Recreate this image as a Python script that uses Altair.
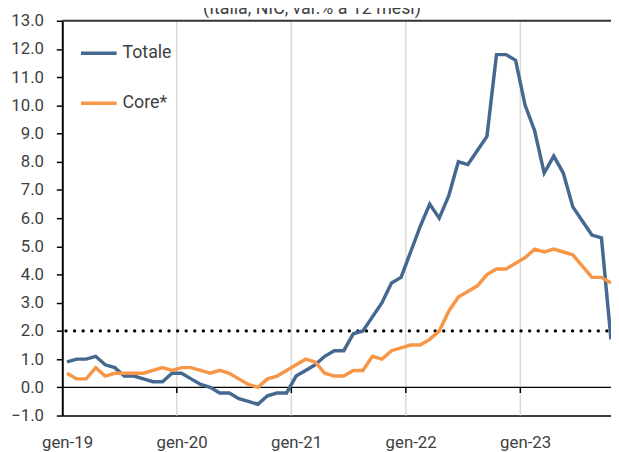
import altair as alt
import pandas as pd

# ---- data ----
title_text = "(Italia, NIC, var.% a 12 mesi)"
series_names = ["Totale", "Core*"]
year_labels = ["gen-19", "gen-20", "gen-21", "gen-22", "gen-23"]

totale = [0.9, 1.0, 1.0, 1.1, 0.8, 0.7, 0.4, 0.4, 0.3, 0.2, 0.2, 0.5,
          0.5, 0.3, 0.1, 0.0, -0.2, -0.2, -0.4, -0.5, -0.6, -0.3, -0.2, -0.2,
          0.4, 0.6, 0.8, 1.1, 1.3, 1.3, 1.9, 2.0, 2.5, 3.0, 3.7, 3.9,
          4.8, 5.7, 6.5, 6.0, 6.8, 8.0, 7.9, 8.4, 8.9, 11.8, 11.8, 11.6,
          10.0, 9.1, 7.6, 8.2, 7.6, 6.4, 5.9, 5.4, 5.3, 1.7]

core = [0.5, 0.3, 0.3, 0.7, 0.4, 0.5, 0.5, 0.5, 0.5, 0.6, 0.7, 0.6,
        0.7, 0.7, 0.6, 0.5, 0.6, 0.5, 0.3, 0.1, 0.0, 0.3, 0.4, 0.6,
        0.8, 1.0, 0.9, 0.5, 0.4, 0.4, 0.6, 0.6, 1.1, 1.0, 1.3, 1.4,
        1.5, 1.5, 1.7, 2.0, 2.7, 3.2, 3.4, 3.6, 4.0, 4.2, 4.2, 4.4,
        4.6, 4.9, 4.8, 4.9, 4.8, 4.7, 4.3, 3.9, 3.9, 3.7]

target = 2.0
year_starts = [12, 24, 36, 48]          # month boundaries (gen-20 ... gen-23)
label_pos = [0.5, 12.5, 24.5, 36.5, 48.5]

n = len(totale)
rows = []
for i in range(n):
    rows.append({"m": i + 0.5, "serie": "Totale", "v": totale[i], "ord": 1})
    rows.append({"m": i + 0.5, "serie": "Core*", "v": core[i], "ord": 0})
df = pd.DataFrame(rows)

XMAX = n - 0.5
xscale = alt.Scale(domain=[0, XMAX], nice=False, zero=False)
yscale = alt.Scale(domain=[-1, 13], nice=False, zero=False)

BLUE = "#44688F"
ORANGE = "#F79646"
TXT = "#404040"
FONT = "Roboto"

label_expr = ("datum.value < 6 ? '" + year_labels[0] + "' : datum.value < 18 ? '" + year_labels[1] +
              "' : datum.value < 30 ? '" + year_labels[2] + "' : datum.value < 42 ? '" + year_labels[3] +
              "' : '" + year_labels[4] + "'")

x_axis = alt.Axis(values=label_pos, labelExpr=label_expr, grid=False, ticks=False,
                  domain=True, domainColor="#000000", domainWidth=1.5,
                  labelFont=FONT, labelFontSize=17, labelColor=TXT,
                  labelPadding=19, labelFlush=False, labelOverlap=False, title=None)
y_axis = alt.Axis(values=list(range(-1, 14)), format=".1f", grid=False,
                  domain=True, domainColor="#000000", domainWidth=2,
                  ticks=True, tickColor="#000000", tickWidth=1.5, tickSize=6,
                  labelFont=FONT, labelFontSize=17, labelColor=TXT,
                  labelPadding=13, labelOverlap=False, labelFlush=False, title=None)

# gridlines at year boundaries
grid_df = pd.DataFrame({"x": year_starts})
grid = alt.Chart(grid_df).mark_rule(color="#D9D9D9", strokeWidth=1.5).encode(
    x=alt.X("x:Q", scale=xscale, axis=x_axis),
    y=alt.YDatum(-1, scale=yscale, axis=y_axis),
    y2=alt.datum(13),
)

# small tick marks hanging from the zero line
ticks = alt.Chart(grid_df).mark_rule(color="#000000", strokeWidth=1.5).encode(
    x=alt.X("x:Q", scale=xscale, axis=x_axis),
    y=alt.YDatum(0, scale=yscale, axis=y_axis),
    y2=alt.datum(-0.2),
)

frame_df = pd.DataFrame({"x0": [0], "x1": [XMAX]})
zero_line = alt.Chart(frame_df).mark_rule(color="#000000", strokeWidth=1.3).encode(
    x=alt.X("x0:Q", scale=xscale, axis=x_axis), x2="x1:Q",
    y=alt.YDatum(0, scale=yscale, axis=y_axis))
top_line = alt.Chart(frame_df).mark_rule(color="#333333", strokeWidth=2).encode(
    x=alt.X("x0:Q", scale=xscale, axis=x_axis), x2="x1:Q",
    y=alt.YDatum(13, scale=yscale, axis=y_axis))
target_line = alt.Chart(frame_df).mark_rule(
    color="#000000", strokeWidth=3.3, strokeDash=[0.1, 8.6], strokeCap="round",
    strokeDashOffset=-3.7).encode(
    x=alt.X("x0:Q", scale=xscale, axis=x_axis), x2="x1:Q",
    y=alt.YDatum(target, scale=yscale, axis=y_axis))

lines = alt.Chart(df).mark_line(strokeWidth=3.5, strokeJoin="miter").encode(
    x=alt.X("m:Q", scale=xscale, axis=x_axis),
    y=alt.Y("v:Q", scale=yscale, axis=y_axis),
    color=alt.Color("serie:N", scale=alt.Scale(domain=series_names, range=[BLUE, ORANGE]),
                    sort=series_names,
                    legend=alt.Legend(orient="none", legendX=17, legendY=13, title=None,
                                      symbolType="stroke", symbolSize=1300,
                                      symbolStrokeWidth=3.5, rowPadding=21.5,
                                      labelFont=FONT, labelFontSize=18, labelColor=TXT,
                                      labelOffset=4, padding=0)),
    order=alt.Order("ord:Q"),
    detail="serie:N",
)

title = alt.Chart(pd.DataFrame({"t": [title_text]})).mark_text(
    font=FONT, fontSize=18, color=TXT, baseline="alphabetic", align="center").encode(
    text="t:N", x=alt.value(253), y=alt.value(-7))

chart = alt.layer(grid, ticks, zero_line, top_line, target_line, lines, title).properties(
    width=556, height=400,
    autosize=alt.AutoSizeParams(type="none"),
    padding={"left": 55, "top": 10, "right": 0, "bottom": 34},
).configure_view(stroke=None)

chart.save("out.html", embed_options={"renderer": "svg", "actions": False})
